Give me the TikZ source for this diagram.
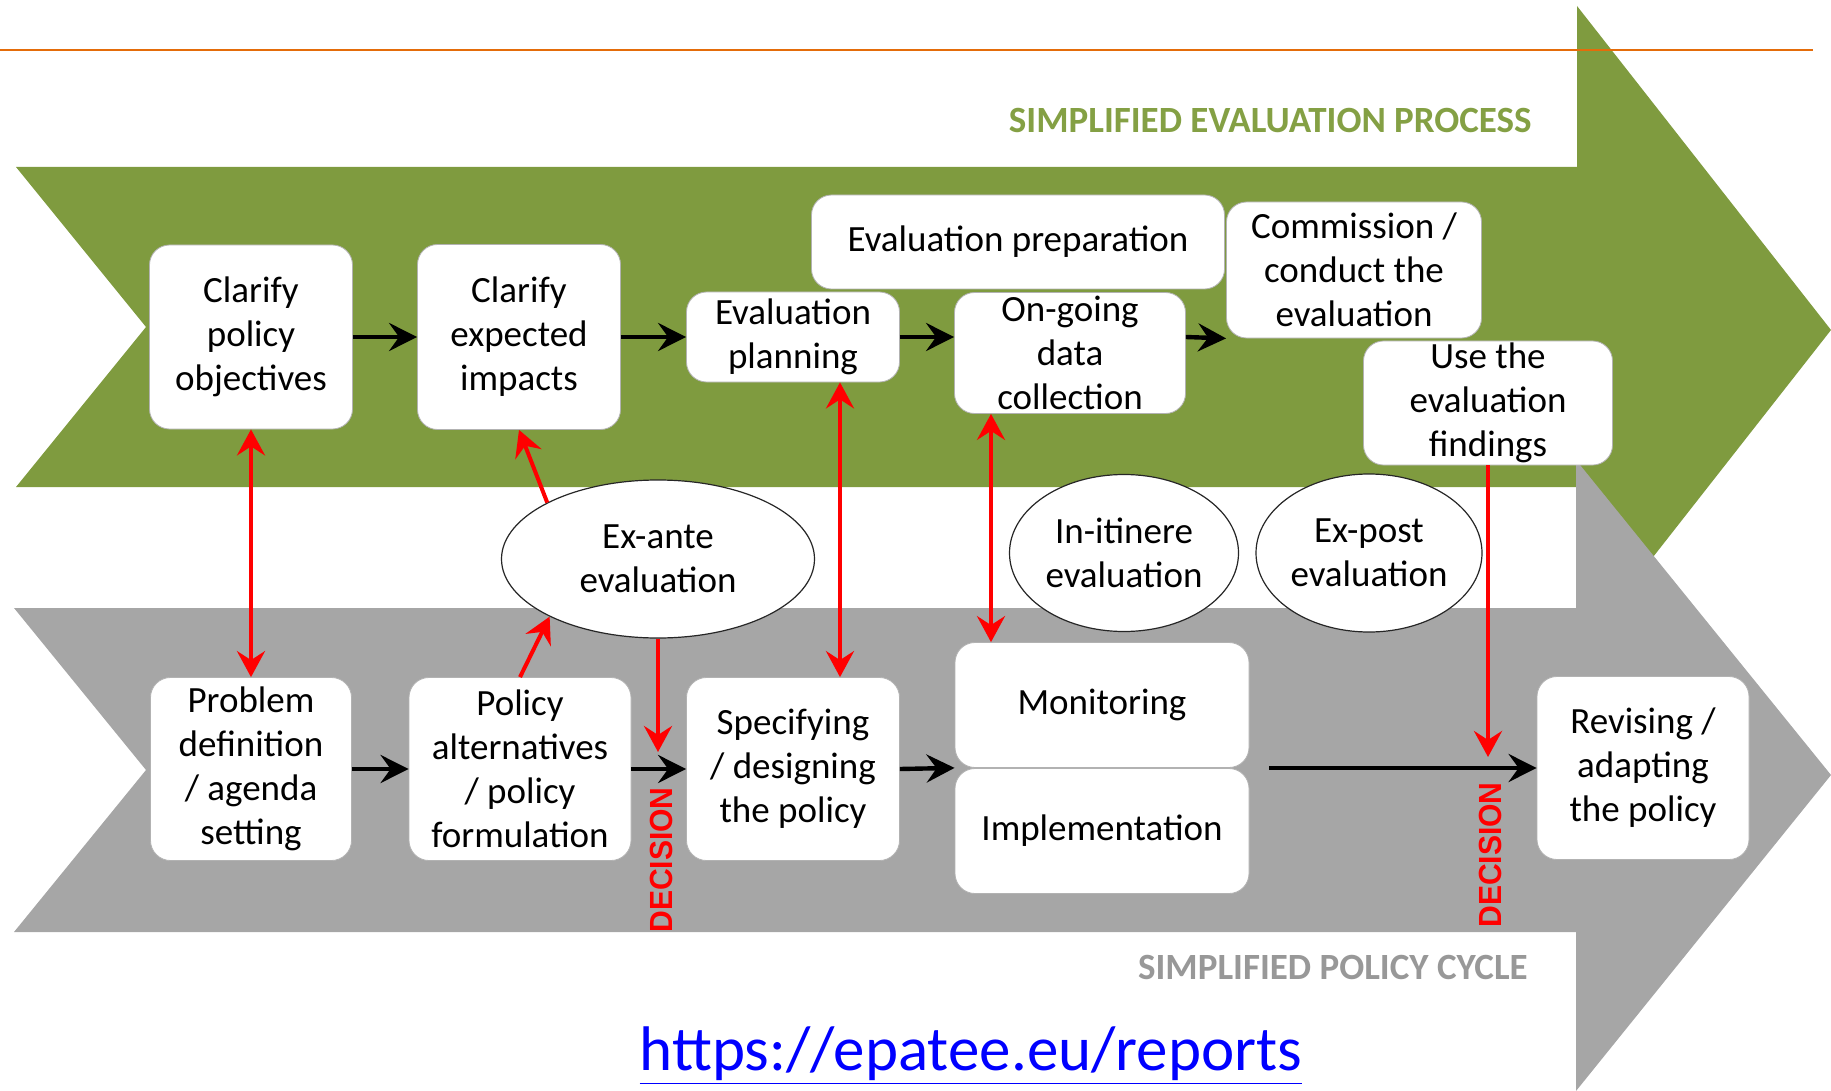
\documentclass[tikz,border=0pt]{standalone}
\usepackage{graphicx}
\usepackage{fontspec}
\setmainfont{Carlito}
\newfontfamily\decfont{Liberation Sans}
\usetikzlibrary{arrows.meta,shapes.geometric}

\definecolor{evalgreen}{RGB}{127,155,63}
\definecolor{headgreen}{RGB}{132,160,68}
\definecolor{cyclegray}{RGB}{166,166,166}
\definecolor{cycletext}{RGB}{152,152,152}
\definecolor{rulecol}{RGB}{228,108,10}
\definecolor{linkblue}{RGB}{0,0,255}

\tikzset{
  stepbox/.style={draw=black!30,fill=white,rounded corners=10pt,align=center,inner sep=1pt,
    font=\fontsize{18.5}{22}\selectfont},
  evaloval/.style={ellipse,draw=black!85,fill=white,line width=0.6pt,align=center,inner sep=0pt,
    font=\fontsize{18.5}{22}\selectfont},
  flow/.style={-{Stealth[length=14pt,width=14pt,inset=5pt]},line width=2.2pt,black},
  link/.style={-{Stealth[length=13pt,width=14pt,inset=4.5pt]},line width=2pt,red},
  linkboth/.style={{Stealth[length=13pt,width=14pt,inset=4.5pt]}-{Stealth[length=13pt,width=14pt,inset=4.5pt]},line width=2pt,red},
  decision/.style={rotate=90,text=red,font=\decfont\bfseries\fontsize{16}{18}\selectfont},
  banner/.style={inner sep=0pt,font=\bfseries\fontsize{18.5}{20}\selectfont}
}

\begin{document}
\begin{tikzpicture}[x=0.5pt,y=-0.5pt]
\useasboundingbox (0,0) rectangle (1831,1091);

% the two big arrows
\fill[evalgreen] (16,167) -- (1577,167) -- (1577,6) -- (1831,330) -- (1577,654) -- (1577,487) -- (16,487) -- (146,327) -- cycle;
\fill[cyclegray] (14,608) -- (1576,608) -- (1576,460) -- (1831,775) -- (1576,1091) -- (1576,932) -- (14,932) -- (146,770) -- cycle;
\draw[rulecol,line width=1pt] (0,50) -- (1813,50);

\node[banner,text=headgreen,anchor=east] (evaltitle) at (1532,121) {SIMPLIFIED EVALUATION PROCESS};
\node[banner,text=cycletext,anchor=east] (cycletitle) at (1528,967) {SIMPLIFIED POLICY CYCLE};
\node[text=linkblue,font=\fontsize{31.5}{36}\selectfont] (url) at (971,1056) {\underline{https://epatee.eu/reports}};

% evaluation process
\node[stepbox,minimum width=101.5pt,minimum height=92pt] (obj) at (251,337) {Clarify\\policy\\objectives};
\node[stepbox,minimum width=101.5pt,minimum height=92.5pt] (imp) at (519,337) {Clarify\\expected\\impacts};
\node[stepbox,minimum width=106.5pt,minimum height=45pt] (plan) at (793,337) {Evaluation\\planning};
\node[stepbox,minimum width=206.5pt,minimum height=47pt] (prep) at (1018,242) {Evaluation preparation};
\node[stepbox,minimum width=115.5pt,minimum height=60.5pt] (data) at (1070,353) {On-going\\data\\collection};
\node[stepbox,minimum width=127.5pt,minimum height=68pt] (comm) at (1354,270) {Commission /\\conduct the\\evaluation};
\node[stepbox,minimum width=124.5pt,minimum height=61.5pt] (use) at (1488,403) {Use the\\evaluation\\findings};

% evaluation types
\node[evaloval,minimum width=156.5pt,minimum height=79pt] (exante) at (658,559) {Ex-ante\\evaluation};
\node[evaloval,minimum width=114.5pt,minimum height=78.5pt] (itin) at (1124,553) {In-itinere\\evaluation};
\node[evaloval,minimum width=113pt,minimum height=79pt] (expost) at (1369,553) {Ex-post\\evaluation};

% policy cycle
\node[stepbox,minimum width=100.5pt,minimum height=91.5pt] (prob) at (251,769) {Problem\\definition\\/ agenda\\setting};
\node[stepbox,minimum width=111pt,minimum height=91.5pt] (alt) at (520,769) {Policy\\alternatives\\/ policy\\formulation};
\node[stepbox,minimum width=106.5pt,minimum height=91.5pt] (spec) at (793,769) {Specifying\\/ designing\\the policy};
\node[stepbox,minimum width=147pt,minimum height=62.5pt] (mon) at (1102,705) {Monitoring};
\node[stepbox,minimum width=147pt,minimum height=62.5pt] (impl) at (1102,831) {Implementation};
\node[stepbox,minimum width=106pt,minimum height=91.5pt] (rev) at (1643,768) {Revising /\\adapting\\the policy};

\node[decision] (dec1) at (661,860) {\scalebox{0.94}[1]{DECISION}};
\node[decision] (dec2) at (1490,855) {\scalebox{0.94}[1]{DECISION}};

\coordinate (decend1) at (658,752);
\coordinate (decend2) at (1488,757);
\coordinate (gap) at (1269,768);
\coordinate (mlink) at ([xshift=-39.5pt]data.south);

\path[flow] (obj) edge (imp);
\path[flow] (imp) edge (plan);
\path[flow] (plan.east) edge (plan.east -| data.west);
\path[flow] (data.east |- plan.east) edge (comm.south west);
\path[flow] (prob) edge (alt);
\path[flow] (alt) edge (spec);
\path[flow] (spec.east) edge (mon.south west);
\path[flow] (gap) edge (rev.west);

\path[linkboth] (obj.south) edge (prob.north);
\path[link] (alt.north) edge (exante.208);
\path[link] (exante.153) edge (imp.south);
\path[link] (exante.south) edge (decend1);
\path[linkboth] ([xshift=23.5pt]plan.south) edge ([xshift=23.5pt]spec.north);
\path[linkboth] (mlink) edge (mlink |- mon.north);
\path[link] (use.south) edge (decend2);
\end{tikzpicture}
\end{document}
